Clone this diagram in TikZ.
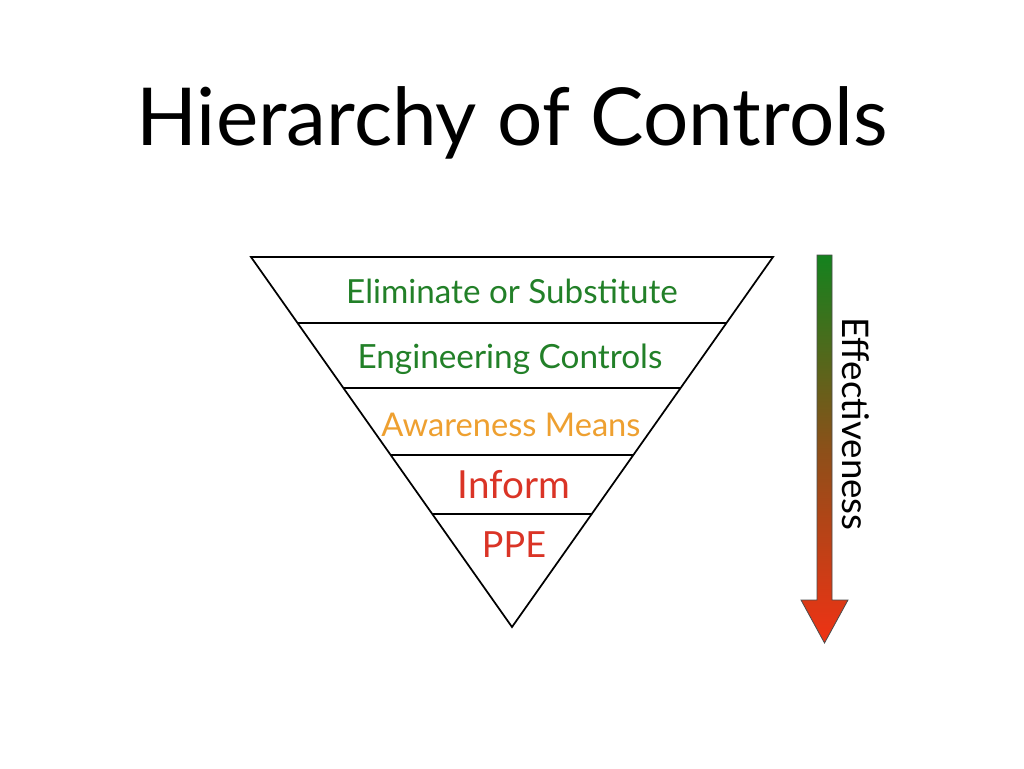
\documentclass[tikz,border=0pt]{standalone}
\usepackage{fontspec}
\setmainfont{Lato}
\definecolor{cgreen}{RGB}{34,128,40}
\definecolor{corange}{RGB}{238,160,48}
\definecolor{cred}{RGB}{218,52,38}
\definecolor{agreen}{RGB}{20,130,30}
\definecolor{ared}{RGB}{240,50,20}
\begin{document}
\begin{tikzpicture}[x=0.75pt,y=-0.75pt,
  lbl/.style={inner sep=0pt, anchor=base},
  fs/.style={font=\fontsize{#1}{#1}\selectfont},
  edge/.style={draw=black, line width=1.3pt, line join=miter}]
\useasboundingbox[fill=white] (0,0) rectangle (1024,768);
% title
\node[lbl, fs=60] (title) at (512,145) {Hierarchy of Controls};
% triangle
\coordinate (tl) at (251,257);
\coordinate (tr) at (773,257);
\coordinate (ap) at (512,627);
\draw[edge] (tl) -- (tr) -- (ap) -- cycle;
% dividers
\foreach \yy in {323,388,455,514}{
  \pgfmathsetmacro{\dx}{(\yy-257)*0.70541}
  \draw[edge] ({251+\dx},\yy) -- ({773-\dx},\yy);
}
% labels
\node[lbl, fs=24.9, text=cgreen] (l1) at (512,303) {Eliminate or Substitute};
\node[lbl, fs=25, text=cgreen] (l2) at (510,368) {Engineering Controls};
\node[lbl, fs=24.5, text=corange] (l3) at (511,436) {Awareness Means};
\node[lbl, fs=29, text=cred] (l4) at (514,498) {Inform};
\node[lbl, fs=27, text=cred] (l5) at (514,557) {PPE};
% arrow
\shade[top color=agreen, bottom color=ared, middle color={rgb,255:red,140;green,80;blue,25}, draw=black!70, line width=0.6pt]
  (817,255) -- (832,255) -- (832,600) -- (848,600) -- (824.5,643) -- (801,600) -- (817,600) -- cycle;
\node[inner sep=0pt, fs=27.5, rotate=-90, anchor=center] (eff) at (856,424) {Effectiveness};
\end{tikzpicture}
\end{document}
